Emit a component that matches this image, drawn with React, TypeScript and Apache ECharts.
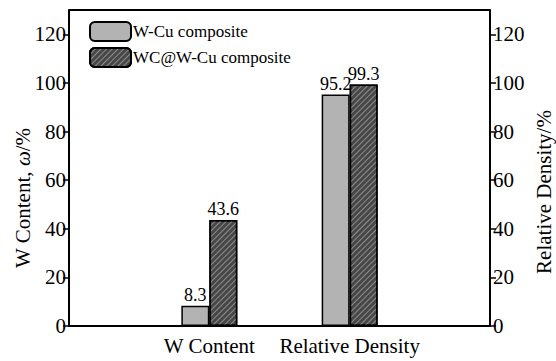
import React, { useEffect, useRef } from "react";
import * as echarts from "echarts";

const categories = ["", "W Content", "Relative Density", ""];
const wcuValues = [null, 8.3, 95.2, null];
const wcwcuValues = [null, 43.6, 99.3, null];
const tickValues = [0, 20, 40, 60, 80, 100, 120];
const seriesNames = ["W-Cu composite", "WC@W-Cu composite"];

const FONT = "'Liberation Serif', 'Times New Roman', Times, serif";

export default function App() {
  const ref = useRef<HTMLDivElement>(null);
  useEffect(() => {
    if (!ref.current) return;
    const chart = echarts.init(ref.current, undefined, { renderer: "svg" });
    const yAxisCommon = {
      type: "value",
      min: 0,
      max: 130,
      interval: 10,
      splitLine: { show: false },
      axisLine: { show: true, lineStyle: { color: "#000", width: 2 } },
      axisTick: { show: true, inside: false, length: 6, lineStyle: { color: "#000", width: 1.5 }, customValues: tickValues },
      axisLabel: { customValues: tickValues, color: "#000", fontSize: 21, fontFamily: FONT, margin: 3 },
    };
    chart.setOption({
      animation: false,
      backgroundColor: "#fff",
      textStyle: { fontFamily: FONT },
      grid: { left: 69, right: 66, top: 10, bottom: 35, show: false },
      legend: {
        orient: "vertical",
        left: 84,
        top: 16,
        itemWidth: 41,
        itemHeight: 19,
        itemGap: 5,
        textStyle: { fontSize: 17, fontFamily: FONT, color: "#000", padding: [0, 0, 0, -3] },
        data: seriesNames,
      },
      xAxis: {
        type: "category",
        data: categories,
        boundaryGap: false,
        axisLine: { show: true, lineStyle: { color: "#000", width: 2 } },
        axisTick: { show: false },
        axisLabel: { interval: 0, color: "#000", fontSize: 21, fontFamily: FONT, margin: 9 },
      },
      yAxis: [
        { ...yAxisCommon, position: "left" },
        { ...yAxisCommon, position: "right" },
      ],
      graphic: [
        {
          type: "line",
          shape: { x1: 69, y1: 10, x2: 490, y2: 10 },
          style: { stroke: "#000", lineWidth: 2 },
        },
        {
          type: "text",
          x: 23,
          y: 198,
          rotation: Math.PI / 2,
          style: {
            text: "{n|W Content, }{i|ω}{n|/%}",
            align: "center",
            verticalAlign: "middle",
            rich: {
              n: { fontSize: 21, fontFamily: FONT, fill: "#000" },
              i: { fontSize: 21, fontFamily: FONT, fontStyle: "italic", fill: "#000" },
            },
          },
        },
        {
          type: "text",
          x: 544,
          y: 192,
          rotation: Math.PI / 2,
          style: {
            text: "Relative Density/%",
            align: "center",
            verticalAlign: "middle",
            fontSize: 21,
            fontFamily: FONT,
            fill: "#000",
          },
        },
      ],
      series: [
        {
          name: seriesNames[0],
          type: "bar",
          data: wcuValues,
          barWidth: 28,
          barGap: "0%",
          itemStyle: { color: "#b3b3b3", borderColor: "#000", borderWidth: 1.5 },
          label: { show: true, position: "top", distance: 2, color: "#000", fontSize: 18, fontFamily: FONT },
        },
        {
          name: seriesNames[1],
          type: "bar",
          data: wcwcuValues,
          barWidth: 28,
          barGap: "0%",
          itemStyle: {
            color: "#474747",
            borderColor: "#000",
            borderWidth: 1.5,
            decal: {
              symbol: "rect",
              symbolSize: 1,
              dashArrayX: [1, 0],
              dashArrayY: [1, 3],
              rotation: -Math.PI / 4,
              color: "#8c8c8c",
            },
          },
          label: { show: true, position: "top", distance: 2, color: "#000", fontSize: 18, fontFamily: FONT },
        },
      ],
    });
    return () => chart.dispose();
  }, []);
  return <div ref={ref} style={{ width: 556, height: 361, position: "absolute", left: 0, top: 0 }} />;
}
